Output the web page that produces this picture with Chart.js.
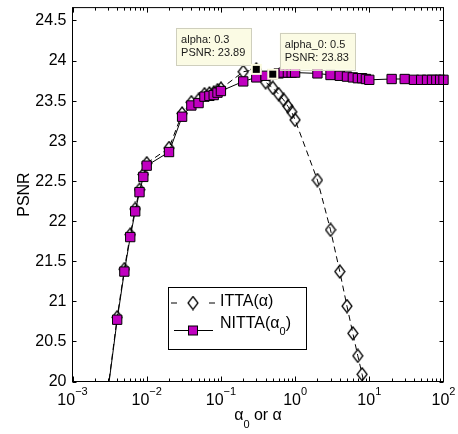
<!DOCTYPE html>
<html lang="en">
<head>
<meta charset="UTF-8" />
<title>PSNR vs alpha</title>
<script src="https://cdn.jsdelivr.net/npm/chart.js"></script>
<style>
  body { margin: 0; background: #fff; }
  #wrap { width: 458px; height: 434px; }
</style>
</head>
<body>
<div id="wrap"><canvas id="chart" width="458" height="434"></canvas></div>
<script>
const FONT = 'Helvetica, "Liberation Sans", Arial, sans-serif';

// ITTA(alpha) - dashed line, open diamonds
const ittaAlpha = [0.003, 0.004, 0.005, 0.006, 0.007, 0.008, 0.009, 0.01, 0.02, 0.03, 0.04, 0.05, 0.06, 0.07, 0.08, 0.09, 0.1,
  0.2, 0.3, 0.4, 0.5, 0.6, 0.7, 0.8, 0.9, 1, 2, 3, 4, 5, 6, 7, 8, 9, 10];
const ittaPsnr = [19.9, 20.8, 21.4, 21.83, 22.15, 22.39, 22.58, 22.72, 22.91, 23.34, 23.48, 23.51, 23.58, 23.59, 23.6, 23.63, 23.65,
  23.86, 23.89, 23.73, 23.66, 23.58, 23.51, 23.43, 23.36, 23.26, 22.51, 21.89, 21.37, 20.94, 20.6, 20.32, 20.09, 19.88, 19.65];

// NITTA(alpha_0) - solid line, magenta squares
const nittaAlpha = [0.003, 0.004, 0.005, 0.006, 0.007, 0.008, 0.009, 0.01, 0.02, 0.03, 0.04, 0.05, 0.06, 0.07, 0.08, 0.09, 0.1,
  0.2, 0.3, 0.4, 0.5, 0.6, 0.7, 0.8, 0.9, 1, 2, 3, 4, 5, 6, 7, 8, 9, 10,
  20, 30, 40, 50, 60, 70, 80, 90, 100];
const nittaPsnr = [19.88, 20.77, 21.37, 21.8, 22.12, 22.36, 22.55, 22.69, 22.86, 23.3, 23.44, 23.47, 23.55, 23.56, 23.57, 23.6, 23.62,
  23.74, 23.79, 23.81, 23.83, 23.84, 23.85, 23.85, 23.85, 23.85, 23.84, 23.82, 23.81, 23.8, 23.79, 23.78, 23.78, 23.77, 23.76,
  23.77, 23.77, 23.76, 23.76, 23.76, 23.76, 23.76, 23.76, 23.76];

const yTicks = [20, 20.5, 21, 21.5, 22, 22.5, 23, 23.5, 24, 24.5];
const xTicks = [0.001, 0.01, 0.1, 1, 10, 100];
const xTickExp = ['\u22123', '\u22122', '\u22121', '0', '1', '2'];

// data tips
const tipItta = 0.3;
const tipNitta = 0.5;

const MAGENTA = '#c000c0';

function makeDiamond(w, h) {
  const c = document.createElement('canvas');
  c.width = w + 2; c.height = h + 2;
  const g = c.getContext('2d');
  g.strokeStyle = '#000';
  g.lineWidth = 1.25;
  g.beginPath();
  g.moveTo(c.width / 2, 1);
  g.lineTo(c.width - 1, c.height / 2);
  g.lineTo(c.width / 2, c.height - 1);
  g.lineTo(1, c.height / 2);
  g.closePath();
  g.stroke();
  return c;
}
const diamond = makeDiamond(10, 13);

function drawTip(ctx, px, py, lines, side) {
  ctx.save();
  ctx.font = '11px ' + FONT;
  const w = Math.max(...lines.map(l => ctx.measureText(l).width)) + 11;
  const h = 37;
  const bx = side < 0 ? px - 5 - w : px + 7;
  const by = py - 4.5 - h;
  ctx.fillStyle = '#fbfbe4';
  ctx.strokeStyle = '#cfcfbd';
  ctx.lineWidth = 1;
  ctx.fillRect(bx, by, w, h);
  ctx.strokeRect(Math.round(bx) + 0.5, Math.round(by) + 0.5, Math.round(w), h);
  ctx.fillStyle = '#1a1a1a';
  ctx.textBaseline = 'middle';
  ctx.textAlign = 'left';
  ctx.fillText(lines[0], bx + 5, by + 12.5);
  ctx.fillText(lines[1], bx + 5, by + 25.5);
  // highlighted point
  ctx.fillStyle = '#fbfbe0';
  ctx.fillRect(px - 5.5, py - 5.5, 11, 11);
  ctx.fillStyle = '#000';
  ctx.fillRect(px - 3.5, py - 3.5, 7, 7);
  ctx.restore();
}

const decor = {
  id: 'decor',
  afterDatasetsDraw(chart) {
    const { ctx, scales: { x, y } } = chart;
    const iy = ittaPsnr[ittaAlpha.indexOf(tipItta)];
    const ny = nittaPsnr[nittaAlpha.indexOf(tipNitta)];
    drawTip(ctx, x.getPixelForValue(tipItta), y.getPixelForValue(iy),
      ['alpha: ' + tipItta, 'PSNR: ' + iy.toFixed(2)], -1);
    drawTip(ctx, x.getPixelForValue(tipNitta), y.getPixelForValue(ny),
      ['alpha_0: ' + tipNitta, 'PSNR: ' + ny.toFixed(2)], 1);
  },
  afterDraw(chart) {
    const { ctx, chartArea: a, scales: { x, y } } = chart;
    ctx.save();
    ctx.strokeStyle = '#000';
    ctx.lineWidth = 1;

    // ticks (inward, all four sides)
    ctx.beginPath();
    for (let d = -3; d < 2; d++) {
      for (let m = 1; m <= 9; m++) {
        const v = m * Math.pow(10, d);
        const px = Math.round(x.getPixelForValue(v)) + 0.5;
        const len = m === 1 ? 5 : 3;
        ctx.moveTo(px, a.bottom); ctx.lineTo(px, a.bottom - len);
        ctx.moveTo(px, a.top); ctx.lineTo(px, a.top + len);
      }
    }
    yTicks.forEach(v => {
      const py = Math.round(y.getPixelForValue(v)) + 0.5;
      ctx.moveTo(a.left, py); ctx.lineTo(a.left + 4, py);
      ctx.moveTo(a.right, py); ctx.lineTo(a.right - 4, py);
    });
    ctx.stroke();

    // frame
    ctx.strokeRect(a.left, a.top, a.right - a.left, a.bottom - a.top);

    // y tick labels
    ctx.fillStyle = '#000';
    ctx.textBaseline = 'middle';
    ctx.textAlign = 'right';
    ctx.font = '16px ' + FONT;
    yTicks.forEach(v => ctx.fillText(String(v), 66.5, y.getPixelForValue(v) + 0.5));

    // x tick labels 10^n
    ctx.textAlign = 'left';
    xTicks.forEach((v, i) => {
      const px = x.getPixelForValue(v);
      ctx.font = '16px ' + FONT;
      const w1 = ctx.measureText('10').width;
      ctx.font = '11px ' + FONT;
      const w2 = ctx.measureText(xTickExp[i]).width;
      const sx = px - (w1 + w2) / 2;
      ctx.font = '16px ' + FONT;
      ctx.fillText('10', sx, 401);
      ctx.font = '11px ' + FONT;
      ctx.fillText(xTickExp[i], sx + w1, 392);
    });

    // x title: alpha_0 or alpha
    ctx.font = '16px ' + FONT;
    const wa = ctx.measureText('\u03b1').width;
    const wr = ctx.measureText(' or \u03b1').width;
    ctx.font = '11px ' + FONT;
    const ws = ctx.measureText('0').width;
    const tx = (a.left + a.right) / 2 - (wa + ws + wr) / 2;
    ctx.font = '16px ' + FONT;
    ctx.fillText('\u03b1', tx, 416);
    ctx.font = '11px ' + FONT;
    ctx.fillText('0', tx + wa, 425);
    ctx.font = '16px ' + FONT;
    ctx.fillText(' or \u03b1', tx + wa + ws, 416);

    // y title
    ctx.save();
    ctx.translate(25, (a.top + a.bottom) / 2);
    ctx.rotate(-Math.PI / 2);
    ctx.textAlign = 'center';
    ctx.font = '16px ' + FONT;
    ctx.fillText('PSNR', 0, 0);
    ctx.restore();

    // legend
    const lx = 168.5, ly = 287.5, lw = 138, lh = 62;
    ctx.fillStyle = '#fff';
    ctx.fillRect(lx, ly, lw, lh);
    ctx.strokeRect(lx, ly, lw, lh);
    ctx.beginPath();
    ctx.moveTo(171, 303); ctx.lineTo(177, 303);
    ctx.moveTo(209, 303); ctx.lineTo(215, 303);
    ctx.stroke();
    ctx.drawImage(diamond, 193 - diamond.width / 2, 303 - diamond.height / 2);
    ctx.fillStyle = '#000';
    ctx.font = '16px ' + FONT;
    ctx.textAlign = 'left';
    ctx.fillText('ITTA(\u03b1)', 220, 302);

    ctx.beginPath();
    ctx.moveTo(174, 330.5); ctx.lineTo(213, 330.5);
    ctx.stroke();
    ctx.fillStyle = MAGENTA;
    ctx.fillRect(188.5, 326, 9, 9);
    ctx.strokeRect(188.5, 326, 9, 9);
    ctx.fillStyle = '#000';
    ctx.font = '16px ' + FONT;
    const wn = ctx.measureText('NITTA(\u03b1').width;
    ctx.fillText('NITTA(\u03b1', 220, 324);
    ctx.font = '11px ' + FONT;
    const w0 = ctx.measureText('0').width;
    ctx.fillText('0', 220 + wn, 332);
    ctx.font = '16px ' + FONT;
    ctx.fillText(')', 220 + wn + w0, 324);

    ctx.restore();
  }
};

new Chart(document.getElementById('chart'), {
  type: 'line',
  data: {
    datasets: [
      {
        label: 'ITTA(\u03b1)',
        data: ittaAlpha.map((a, i) => ({ x: a, y: ittaPsnr[i] })),
        borderColor: '#000',
        borderWidth: 1,
        borderDash: [6, 4],
        pointStyle: diamond,
        pointRadius: 6,
        pointBorderColor: '#000',
        tension: 0,
        order: 1,
        clip: { left: 0, top: 0, right: 10, bottom: 0 }
      },
      {
        label: 'NITTA(\u03b1\u2080)',
        data: nittaAlpha.map((a, i) => ({ x: a, y: nittaPsnr[i] })),
        borderColor: '#000',
        borderWidth: 1,
        pointStyle: 'rect',
        pointRadius: 6.6,
        pointBackgroundColor: MAGENTA,
        pointBorderColor: '#000',
        pointBorderWidth: 1,
        tension: 0,
        order: 0,
        clip: { left: 0, top: 0, right: 10, bottom: 0 }
      }
    ]
  },
  options: {
    responsive: false,
    animation: false,
    events: [],
    layout: { padding: { top: 7.5, right: 14.5, left: 0, bottom: 0 } },
    plugins: { legend: { display: false }, tooltip: { enabled: false } },
    scales: {
      x: {
        type: 'logarithmic',
        min: 0.001,
        max: 100,
        grid: { display: false },
        border: { display: false },
        ticks: { display: false },
        afterFit(s) { s.height = 52.5; }
      },
      y: {
        min: 20,
        max: 24.66,
        grid: { display: false },
        border: { display: false },
        ticks: { display: false },
        afterBuildTicks(s) { s.ticks = yTicks.map(v => ({ value: v })); },
        afterFit(s) { s.width = 72.5; }
      }
    }
  },
  plugins: [decor]
});
</script>
</body>
</html>
